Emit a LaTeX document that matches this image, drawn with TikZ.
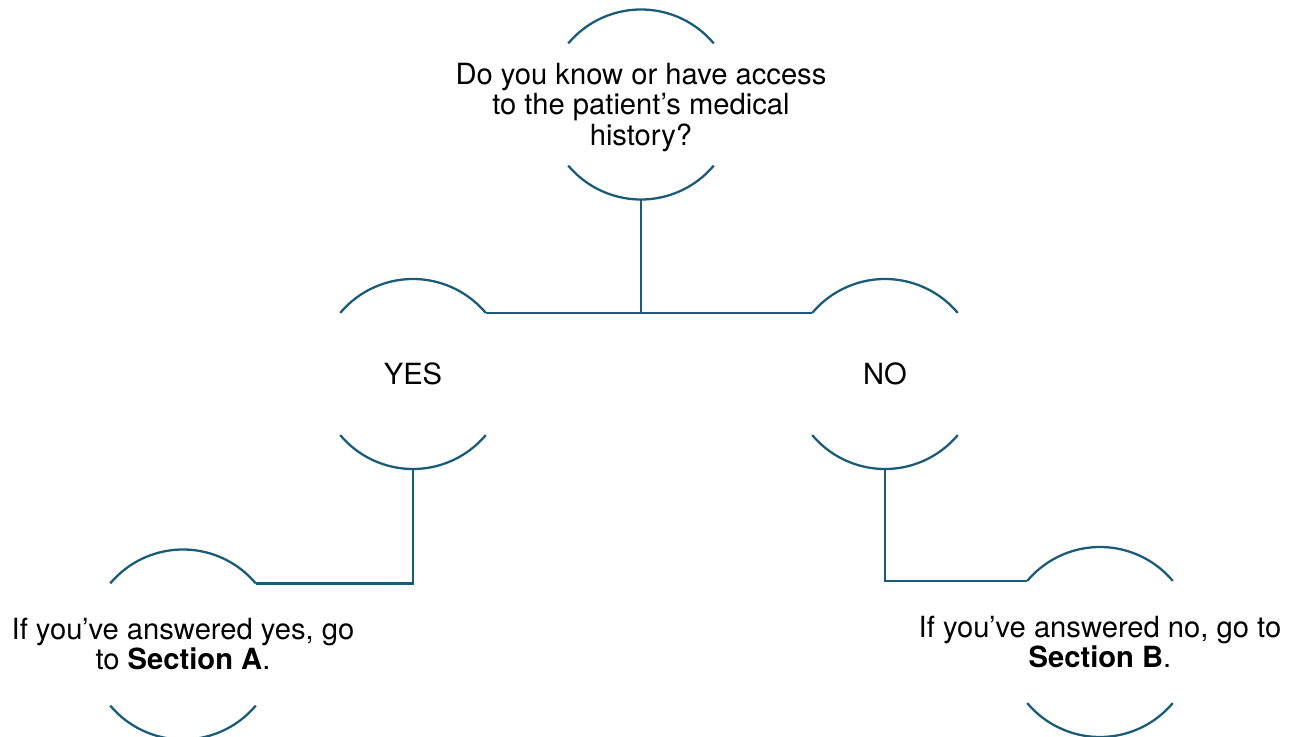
\documentclass[tikz,border=0pt]{standalone}
\usepackage{fontspec}
\setmainfont{TeX Gyre Heros}
\usetikzlibrary{positioning}
\definecolor{tealline}{HTML}{1A5C78}

\begin{document}
\begin{tikzpicture}[
      on grid,
      ring/.style={circle, minimum size=3.8cm, inner sep=0pt, outer sep=0pt},
      txt/.style={align=center, inner sep=0pt, font=\fontsize{16.6}{17.1}\selectfont},
      link/.style={draw=tealline, line width=1.3pt}
    ]
    \useasboundingbox (-12.82,2.09) rectangle (13.10,-12.63);

    % Nodes
    \node[ring, label={[txt, yshift=-0.06cm]center:{Do you know or have access\\to the patient’s medical\\history?}}] (q) at (0,0) {};
    \node[ring, below left=5.39cm and 4.56cm of q, label={[txt]center:YES}] (yes) {};
    \node[ring, below right=5.39cm and 4.88cm of q, label={[txt]center:NO}] (no) {};
    \node[ring, below left=5.41cm and 4.60cm of yes, label={[txt]center:{If you’ve answered yes, go\\to \textbf{Section A}.}}] (secA) {};
    \node[ring, below right=5.36cm and 4.30cm of no, label={[txt]center:{If you’ve answered no, go to\\\textbf{Section B}.}}] (secB) {};

    % Open circles (top and bottom arcs only)
    \foreach \n in {q, yes, no, secA, secB}
      \draw[link] (\n.40) arc[start angle=40, end angle=140, radius=1.9cm]
                  (\n.220) arc[start angle=220, end angle=320, radius=1.9cm];

    % Connectors
    \draw[link] (yes.40) -- (no.140);
    \draw[link] (q.south) -- (q.south |- yes.40);
    \draw[link] (yes.south) |- (secA.40);
    \draw[link] (no.south) |- (secB.140);
\end{tikzpicture}
\end{document}
